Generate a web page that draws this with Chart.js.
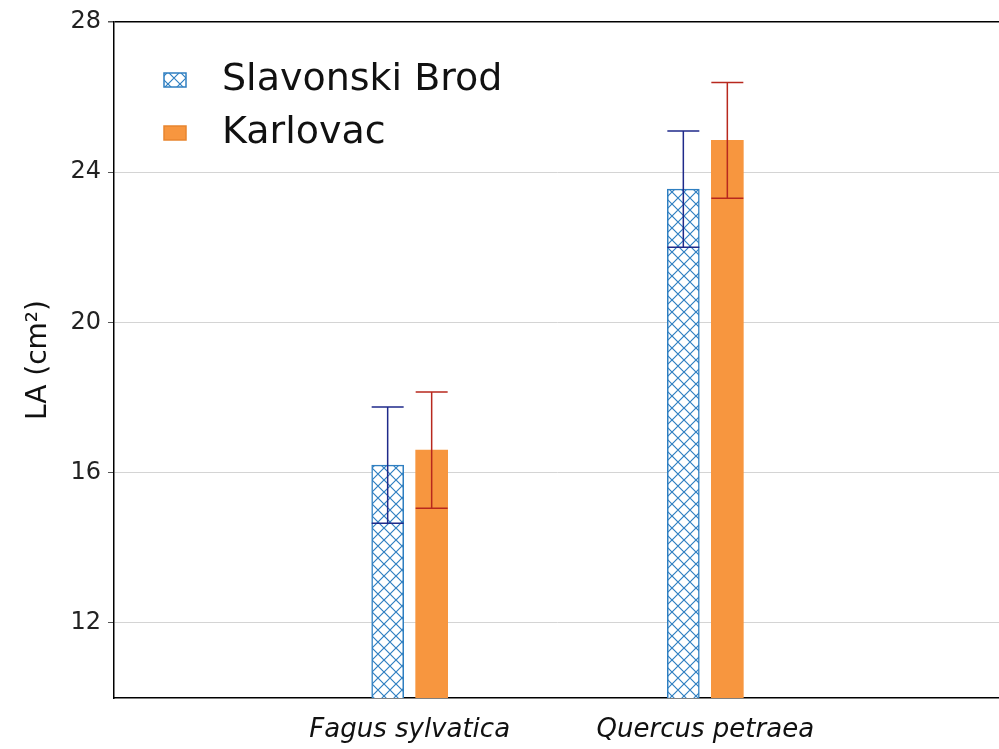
<!DOCTYPE html>
<html>
<head>
<meta charset="utf-8">
<script src="https://cdn.jsdelivr.net/npm/chart.js@4.4.0/dist/chart.umd.min.js"></script>
<style>
  html, body { margin: 0; padding: 0; background: #fff; overflow: hidden; }
  #chart { display: block; }
</style>
</head>
<body>
<canvas id="chart" width="1010" height="749"></canvas>
<script>
// data
const species = ['Fagus sylvatica', 'Quercus petraea'];
const seriesNames = ['Slavonski Brod', 'Karlovac'];
const slavonskiBrod = [16.2, 23.55];
const slavonskiBrodErr = [1.55, 1.55];
const karlovac = [16.6, 24.85];
const karlovacErr = [1.55, 1.54];
const yTicks = [12, 16, 20, 24, 28];

const FONT = 'DejaVu Sans';
const blue = '#2f7fc1';
const orange = '#f7963f';

// pad with empty slots so the two groups sit at 1/3 and 2/3 of the axis
const labels = ['', ...species, ''];
const pad = arr => [null, ...arr, null];

function makeHatch() {
    const size = 12;
    const c = document.createElement('canvas');
    c.width = size; c.height = size;
    const g = c.getContext('2d');
    g.fillStyle = '#fff';
    g.fillRect(0, 0, size, size);
    g.strokeStyle = blue;
    g.lineWidth = 1.2;
    g.beginPath();
    g.moveTo(-1, -1); g.lineTo(size + 1, size + 1);
    g.moveTo(size + 1, -1); g.lineTo(-1, size + 1);
    g.stroke();
    return g.createPattern(c, 'repeat');
}
const hatch = makeHatch();

const errorBars = {
    id: 'errorBars',
    afterDatasetsDraw(chart) {
        const ctx = chart.ctx;
        const y = chart.scales.y;
        chart.data.datasets.forEach((ds, i) => {
            const meta = chart.getDatasetMeta(i);
            meta.data.forEach((bar, j) => {
                const v = ds.data[j];
                if (v == null) return;
                const e = ds.errors[j];
                const top = y.getPixelForValue(v + e);
                const bot = y.getPixelForValue(v - e);
                const half = bar.width / 2;
                ctx.save();
                ctx.strokeStyle = ds.errorColor;
                ctx.lineWidth = 1.5;
                ctx.beginPath();
                ctx.moveTo(bar.x, top); ctx.lineTo(bar.x, bot);
                ctx.moveTo(bar.x - half, top); ctx.lineTo(bar.x + half, top);
                ctx.moveTo(bar.x - half, bot); ctx.lineTo(bar.x + half, bot);
                ctx.stroke();
                ctx.restore();
            });
        });
    }
};

const insetLegend = {
    id: 'insetLegend',
    afterDraw(chart) {
        const ctx = chart.ctx;
        const area = chart.chartArea;
        const x0 = area.left + 50;
        let yc = area.top + 58;
        ctx.save();
        chart.data.datasets.forEach(ds => {
            ctx.fillStyle = ds.backgroundColor;
            ctx.fillRect(x0, yc - 7, 22, 14);
            ctx.strokeStyle = ds.borderColor;
            ctx.lineWidth = 1.5;
            ctx.strokeRect(x0, yc - 7, 22, 14);
            ctx.fillStyle = '#111';
            ctx.font = '38px "' + FONT + '"';
            ctx.textBaseline = 'middle';
            ctx.textAlign = 'left';
            ctx.fillText(ds.label, x0 + 58, yc);
            yc += 53;
        });
        ctx.restore();
    }
};

new Chart(document.getElementById('chart'), {
    type: 'bar',
    data: {
        labels: labels,
        datasets: [{
            label: seriesNames[0],
            data: pad(slavonskiBrod),
            errors: pad(slavonskiBrodErr),
            errorColor: '#1f2a8a',
            backgroundColor: hatch,
            borderColor: blue,
            borderWidth: 1.5,
            borderSkipped: false,
            barThickness: 44,
            maxBarThickness: 32
        }, {
            label: seriesNames[1],
            data: pad(karlovac),
            errors: pad(karlovacErr),
            errorColor: '#b8281e',
            backgroundColor: orange,
            borderColor: '#e8852f',
            borderWidth: 0,
            barThickness: 44,
            maxBarThickness: 32
        }]
    },
    options: {
        responsive: false,
        animation: false,
        devicePixelRatio: 1,
        layout: { padding: { top: 22, right: 6, left: 0, bottom: 0 } },
        plugins: {
            legend: { display: false },
            tooltip: { enabled: false }
        },
        scales: {
            x: {
                type: 'category',
                offset: false,
                grid: { display: false },
                border: { color: '#000', width: 1.5 },
                ticks: {
                    font: { family: FONT, size: 26, style: 'italic' },
                    color: '#111',
                    padding: 9,
                    autoSkip: false,
                    maxRotation: 0
                },
                afterFit: s => { s.height = 51; }
            },
            y: {
                min: 10,
                max: 28,
                afterBuildTicks: s => { s.ticks = yTicks.map(v => ({ value: v })); },
                grid: {
                    color: c => c.tick && c.tick.value === 28 ? '#000' : '#d4d4d4',
                    lineWidth: c => c.tick && c.tick.value === 28 ? 1.5 : 1,
                    tickLength: 6,
                    tickColor: '#555'
                },
                border: { color: '#000', width: 1.5 },
                ticks: {
                    font: { family: FONT, size: 24 },
                    color: '#222',
                    padding: 7
                },
                title: {
                    display: true,
                    text: 'LA (cm²)',
                    font: { family: FONT, size: 28 },
                    color: '#111',
                    padding: { top: 22, bottom: 0 }
                },
                afterFit: s => { s.width = 114; }
            }
        }
    },
    plugins: [errorBars, insetLegend]
});
</script>
</body>
</html>
